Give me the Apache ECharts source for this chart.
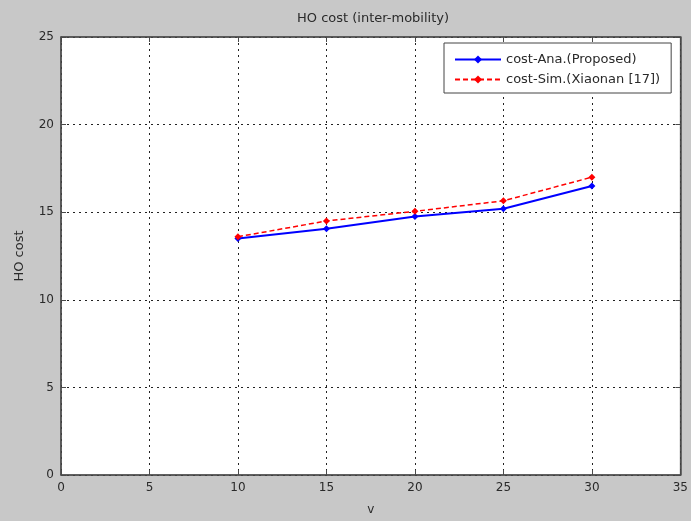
<!DOCTYPE html>
<html>
<head>
<meta charset="utf-8">
<script src="https://cdn.jsdelivr.net/npm/echarts@6/dist/echarts.min.js"></script>
<style>
  html, body { margin: 0; padding: 0; background: #c8c8c8; }
  #chart { width: 691px; height: 521px; }
</style>
</head>
<body>
<div id="chart"></div>
<script>
// Speed values (x) and handover cost for the two curves
const speeds = [10, 15, 20, 25, 30];
const costAna = [13.5, 14.05, 14.75, 15.2, 16.5];
const costSim = [13.6, 14.5, 15.05, 15.65, 17.0];
const seriesNames = ['cost-Ana.(Proposed)', 'cost-Sim.(Xiaonan [17])'];

const font = 'DejaVu Sans, Verdana, sans-serif';
const textColor = '#2a2a2a';
const axisColor = '#4a4a4a';

function pairs(xs, ys) { return xs.map((x, i) => [x, ys[i]]); }

const chart = echarts.init(document.getElementById('chart'));
const baseX = {
  type: 'value', min: 0, max: 35, interval: 5,
  axisLine: { show: true, onZero: false, lineStyle: { color: axisColor, width: 1.5 } },
  axisTick: { show: true, inside: true, length: 5, lineStyle: { color: axisColor } },
  splitLine: { show: false }
};
const baseY = {
  type: 'value', min: 0, max: 25, interval: 5,
  axisLine: { show: true, onZero: false, lineStyle: { color: axisColor, width: 1.5 } },
  axisTick: { show: true, inside: true, length: 5, lineStyle: { color: axisColor } },
  splitLine: { show: false }
};

chart.setOption({
  backgroundColor: '#c8c8c8',
  animation: false,
  title: {
    text: 'HO cost (inter-mobility)',
    left: 292, top: 7,
    textStyle: { fontFamily: font, fontSize: 13, fontWeight: 'normal', color: textColor }
  },
  grid: { left: 61, right: 8, top: 37, bottom: 44, show: true, backgroundColor: '#ffffff', borderColor: axisColor, borderWidth: 1 },
  legend: {
    orient: 'vertical',
    left: 444, top: 43,
    backgroundColor: '#ffffff',
    borderColor: '#444',
    borderWidth: 1,
    padding: [10, 11, 7, 10],
    itemGap: 7,
    itemWidth: 46, itemHeight: 10,
    textStyle: { fontFamily: font, fontSize: 13, color: textColor },
    data: seriesNames
  },
  xAxis: [
    Object.assign({}, baseX, {
      position: 'bottom',
      name: 'v', nameLocation: 'middle', nameGap: 29,
      nameTextStyle: { fontFamily: font, fontSize: 12, color: textColor },
      axisLabel: { fontFamily: font, fontSize: 12, color: textColor, margin: 7 },
      splitLine: { show: true, lineStyle: { color: '#222', type: [2, 4], width: 1 } }
    }),
    Object.assign({}, baseX, { position: 'top', axisLabel: { show: false } })
  ],
  yAxis: [
    Object.assign({}, baseY, {
      position: 'left',
      name: 'HO cost', nameLocation: 'middle', nameGap: 35,
      nameTextStyle: { fontFamily: font, fontSize: 13, color: textColor },
      axisLabel: { fontFamily: font, fontSize: 12, color: textColor, margin: 7 },
      splitLine: { show: true, lineStyle: { color: '#222', type: [2, 4], width: 1 } }
    }),
    Object.assign({}, baseY, { position: 'right', axisLabel: { show: false } })
  ],
  series: [
    {
      name: seriesNames[0], type: 'line',
      data: pairs(speeds, costAna),
      symbol: 'diamond', symbolSize: 7,
      lineStyle: { color: '#0000ff', width: 2 },
      itemStyle: { color: '#0000ff' }
    },
    {
      name: seriesNames[1], type: 'line',
      data: pairs(speeds, costSim),
      symbol: 'diamond', symbolSize: 7,
      lineStyle: { color: '#ff0000', width: 1.5, type: [5, 3] },
      itemStyle: { color: '#ff0000' }
    }
  ]
});
</script>
</body>
</html>
